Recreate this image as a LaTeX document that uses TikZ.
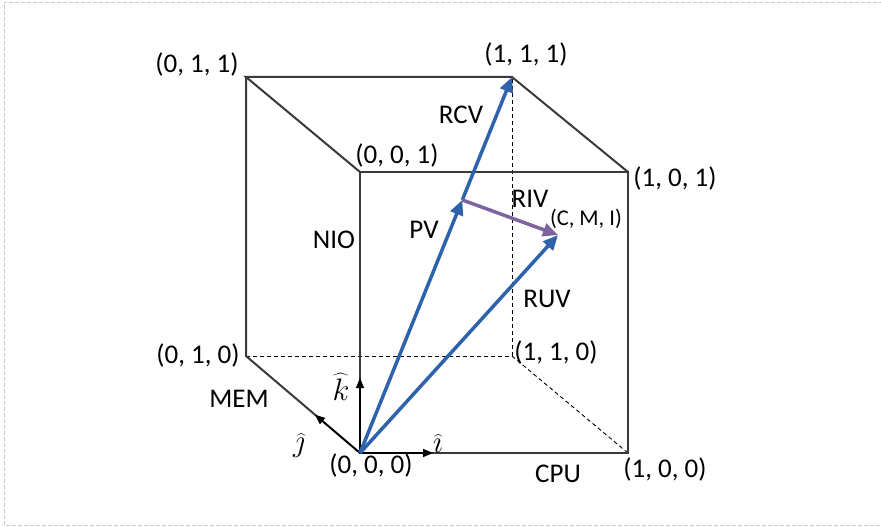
\documentclass[tikz,border=0pt]{standalone}
\usepackage{fontspec}
\setmainfont{Carlito}
\usetikzlibrary{arrows.meta,calc}
\definecolor{vecblue}{HTML}{2E63AC}
\definecolor{vecpurple}{HTML}{7F63A1}
\definecolor{edgegray}{HTML}{3A3A3A}
\definecolor{framegray}{HTML}{C8C8C8}
\begin{document}
\begin{tikzpicture}[x=1pt,y=-1pt,
  lbl/.style={anchor=base, inner sep=0pt, font=\fontsize{27}{32}\selectfont},
  smalllbl/.style={anchor=base, inner sep=0pt, font=\fontsize{22.5}{27}\selectfont},
  mathlbl/.style={anchor=base, inner sep=0pt, scale=1.5, font=\fontsize{20}{24}\selectfont},
  cubeedge/.style={draw=edgegray, line width=2pt},
  hidden/.style={draw=black, line width=0.9pt, dash pattern=on 4pt off 3pt},
  axisarrow/.style={-{Triangle[length=10pt,width=8pt]}, line width=1.6pt, draw=black},
  vecarrow/.style={-{Triangle[length=15pt,width=13pt]}, line width=3.5pt, draw=vecblue},
  intarrow/.style={-{Triangle[length=15pt,width=13pt]}, line width=3.5pt, draw=vecpurple}]
\useasboundingbox (0,0) rectangle (881,527);
\draw[framegray, line width=0.8pt, dash pattern=on 4pt off 2pt] (895,2) -- (4,2) -- (4,525) -- (895,525);

% cube corners
\coordinate (O) at (360,453);
\coordinate (X) at (628,453);
\coordinate (Z) at (360,172);
\coordinate (XZ) at (628,172);
\coordinate (Y) at (246,356);
\coordinate (YZ) at (246,77);
\coordinate (XYZ) at (512,77);
\coordinate (XY) at (512,356);
\coordinate (P) at ($(O)!0.673!(XYZ)$);
\coordinate (C) at (558,235);
\coordinate (Ki) at (360,378);
\coordinate (Ii) at (433,453);
\coordinate (Ji) at ($(O)!0.395!(Y)$);

% hidden edges
\draw[hidden] (Y) -- (XY) -- (XYZ);
\draw[hidden] (XY) -- (X);

% visible edges
\draw[cubeedge] (O) -- (X) -- (XZ) -- (Z) -- cycle;
\draw[cubeedge] (Z) -- (YZ) -- (XYZ) -- (XZ);
\draw[cubeedge] (YZ) -- (Y) -- (O);

% unit axes
\draw[axisarrow] (O) -- (Ki);
\draw[axisarrow] (O) -- (Ii);
\draw[axisarrow] (O) -- (Ji);

% vectors
\draw[vecarrow] (O) -- (P);
\draw[vecarrow] (P) -- (XYZ);
\draw[vecarrow] (O) -- (C);
\draw[intarrow] (P) -- (C);

% labels
\node[lbl] (l011) at (197,73) {(0, 1, 1)};
\node[lbl] (l111) at (526,63) {(1, 1, 1)};
\node[lbl] (l001) at (397,163) {(0, 0, 1)};
\node[lbl] (l101) at (675,186) {(1, 0, 1)};
\node[lbl] (lrcv) at (461,123) {RCV};
\node[lbl] (lriv) at (530,207) {RIV};
\node[smalllbl] (lcmi) at (586,225) {(C, M, I)};
\node[lbl] (lpv) at (424,238) {PV};
\node[lbl] (lnio) at (334,248) {NIO};
\node[lbl] (lruv) at (547,307) {RUV};
\node[lbl] (l010) at (198,363) {(0, 1, 0)};
\node[lbl] (l110) at (556,360) {(1, 1, 0)};
\node[lbl] (lmem) at (239,407) {MEM};
\node[mathlbl] (lk) at (341,400) {$\widehat{k}$};
\node[mathlbl] (lj) at (299,451) {$\widehat{\jmath}$};
\node[mathlbl] (li) at (438,452) {$\widehat{\imath}$};
\node[lbl] (l000) at (371,473) {(0, 0, 0)};
\node[lbl] (lcpu) at (558,482) {CPU};
\node[lbl] (l100) at (665,477) {(1, 0, 0)};
\end{tikzpicture}
\end{document}
